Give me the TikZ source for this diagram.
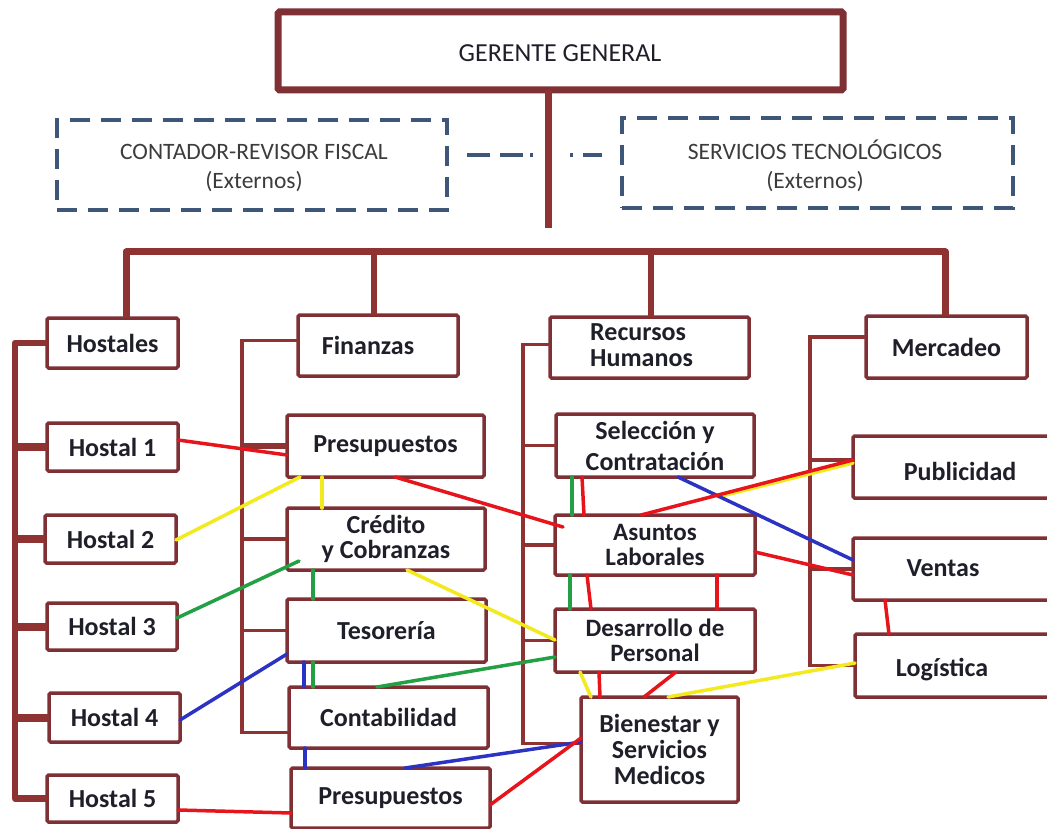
\documentclass[tikz,border=0pt]{standalone}
\usepackage{fontspec}
\setmainfont{Carlito}
\usetikzlibrary{calc}
\definecolor{trunkc}{HTML}{8E3232}
\definecolor{boxc}{HTML}{7E3035}
\definecolor{txtc}{HTML}{1F1F2A}
\definecolor{extc}{HTML}{3C3C3C}
\definecolor{dashc}{HTML}{3E5677}
\definecolor{lred}{HTML}{E8141C}
\definecolor{lyel}{HTML}{F2EA1E}
\definecolor{lgrn}{HTML}{23A044}
\definecolor{lblu}{HTML}{2C33C2}
\begin{document}
\begin{tikzpicture}[x=1pt,y=-1pt,
  box/.style={draw=boxc, line width=3.5pt, rounded corners=1.5pt, outer sep=0pt, inner sep=0pt,
    anchor=north west, align=center, text=txtc, font=\fontsize{26}{26}\selectfont\bfseries},
  lbl/.style={inner sep=0pt, align=center, text=txtc, font=\fontsize{26}{26}\selectfont\bfseries},
  topbox/.style={box, line width=7pt},
  toptxt/.style={inner sep=0pt, text=txtc, font=\fontsize{26}{26}\selectfont},
  extbox/.style={draw=dashc, line width=3.5pt, dash pattern=on 20pt off 11pt, outer sep=0pt,
    inner sep=0pt, anchor=north west},
  exttxt/.style={inner sep=0pt, align=center, text=extc, font=\fontsize{23.5}{29}\selectfont},
  trunk/.style={draw=trunkc, line width=7pt},
  drop/.style={draw=trunkc, line width=6pt},
  hostbar/.style={draw=trunkc, line width=6.5pt},
  limb/.style={draw=trunkc, line width=3.5pt},
  link/.style={line width=3.5pt, line cap=round},
]
\useasboundingbox (0,0) rectangle (1047,829);

% ---- top management and external services
\node[topbox, minimum width=565pt, minimum height=78pt] (gg) at (278,12) {};
\node[toptxt] (ggT) at (560,53) {GERENTE GENERAL};
\node[extbox, minimum width=390pt, minimum height=90pt] (cont) at (57,120) {};
\node[exttxt] (contT) at (254,168) {CONTADOR-REVISOR FISCAL\\(Externos)};
\node[extbox, minimum width=391pt, minimum height=90pt] (serv) at (622,118) {};
\node[exttxt] (servT) at (815,166) {SERVICIOS TECNOLÓGICOS\\(Externos)};

% ---- Hostales column
\node[box, minimum width=131pt, minimum height=50pt] (hostales) at (47,318) {Hostales};
\node[box, minimum width=131pt, minimum height=48pt] (h1) at (47,423) {Hostal 1};
\node[box, minimum width=131pt, minimum height=48pt] (h2) at (45,515) {Hostal 2};
\node[box, minimum width=130pt, minimum height=47pt] (h3) at (47,603) {Hostal 3};
\node[box, minimum width=131pt, minimum height=49pt] (h4) at (49,693) {Hostal 4};
\node[box, minimum width=131pt, minimum height=47pt] (h5) at (47,775) {Hostal 5};

% ---- Finanzas column
\node[box, minimum width=160pt, minimum height=61pt] (fin) at (298,315) {};
\node[lbl] (finT) at (368,345) {Finanzas};
\node[box, minimum width=197pt, minimum height=62pt] (pres1) at (287,415) {Presupuestos};
\node[box, minimum width=198pt, minimum height=62pt, font=\fontsize{26}{25}\selectfont\bfseries]
  (cred) at (287,508) {Crédito\\ y Cobranzas};
\node[box, minimum width=199pt, minimum height=63pt] (tes) at (287,599) {Tesorería};
\node[box, minimum width=199pt, minimum height=61pt] (conta) at (289,687) {Contabilidad};
\node[box, minimum width=199pt, minimum height=60pt] (pres2) at (291,768) {Presupuestos};

% ---- Recursos Humanos column
\node[box, minimum width=199pt, minimum height=61pt] (rrhh) at (550,317) {};
\node[lbl, align=left, anchor=west] (rrhhT) at (590,345) {Recursos\\Humanos};
\node[box, minimum width=198pt, minimum height=63pt, font=\fontsize{26}{31}\selectfont\bfseries]
  (sel) at (556,414) {Selección y\\Contratación};
\node[box, minimum width=200pt, minimum height=60pt, font=\fontsize{25}{25}\selectfont\bfseries]
  (asun) at (555,515) {Asuntos\\Laborales};
\node[box, minimum width=200pt, minimum height=63pt, font=\fontsize{25}{25}\selectfont\bfseries]
  (des) at (555,609) {Desarrollo de\\Personal};
\node[box, minimum width=157pt, minimum height=105pt] (bien) at (581,697)
  {Bienestar y\\Servicios\\Medicos};

% ---- Mercadeo column (the sub-boxes run on past the right edge)
\node[box, minimum width=161pt, minimum height=62pt] (merc) at (866,316) {Mercadeo};
\node[box, minimum width=210pt, minimum height=62pt] (pub) at (853,436) {};
\node[lbl] (pubT) at (960,471) {Publicidad};
\node[box, minimum width=210pt, minimum height=62pt] (ventas) at (853,538) {};
\node[lbl] (ventasT) at (943,568) {Ventas};
\node[box, minimum width=210pt, minimum height=63pt] (log) at (855,634) {};
\node[lbl] (logT) at (942,670) {Logística};

% ---- link between the external services
\draw[dashc, line width=3.5pt, shorten <=20pt, shorten >=20pt,
  dash pattern=on 23pt off 10pt on 23pt off 7pt on 3pt off 37pt on 3pt off 10pt on 20pt off 40pt]
  (cont.east |- 0,155) -- (serv.west |- 0,155);

% ---- main trunk
\coordinate (stem) at (548,228);
\draw[trunk] (gg.south -| stem) -- (stem);
\coordinate (barL) at (126,252);
\coordinate (barR) at (945,252);
\coordinate (dF) at (374,252);
\coordinate (dR) at (651,252);
\draw[trunk, line join=round] (hostales.north -| barL) -- (barL) -- (barR) -- (merc.north -| barR);
\draw[drop] (dF) -- (fin.north -| dF);
\draw[drop] (dR) -- (rrhh.north -| dR);

% ---- Hostales bracket
\coordinate (hx) at (15,0);
\draw[hostbar, line join=round] (hostales.west) -- (hostales.west -| hx) -- (h5.west -| hx) -- (h5.west);
\foreach \n in {h1,h2,h3,h4} \draw[hostbar, line width=8pt] (\n.west -| hx) -- (\n.west);

% ---- Finanzas bracket
\coordinate (fx) at (242,0);
\coordinate (finS) at ([yshift=5pt]fin.west);
\coordinate (contaS) at ([yshift=-15pt]conta.west);
\draw[limb] (finS) -- (finS -| fx) -- (contaS -| fx) -- (contaS);
\foreach \n in {pres1,cred,tes} \draw[limb] (\n.west -| fx) -- (\n.west);
\draw[limb, line width=6pt] (pres1.west -| fx) -- (pres1.west);

% ---- Recursos Humanos bracket
\coordinate (rx) at (523,0);
\coordinate (rrS) at ([yshift=3pt]rrhh.west);
\coordinate (bienS) at ([yshift=6pt]bien.west);
\draw[limb] (rrS) -- (rrS -| rx) -- (bienS -| rx) -- (bienS);
\foreach \n in {sel,asun,des} \draw[limb] (\n.west -| rx) -- (\n.west);

% ---- Mercadeo bracket
\coordinate (mx) at (810,0);
\coordinate (mercS) at ([yshift=10pt]merc.west);
\coordinate (pubS) at ([yshift=7pt]pub.west);
\draw[limb] (mercS) -- (mercS -| mx) -- (log.west -| mx) -- (log.west);
\draw[limb] (pubS -| mx) -- (pubS);
\draw[limb] (ventas.west -| mx) -- (ventas.west);

% ---- cross relations: yellow
\coordinate (ypub) at (722,496);
\draw[link, lyel] (pub.west |- 0,463) -- (ypub);
\draw[link, lyel] (h2.east |- 0,540) -- (pres1.south -| 300,0);
\draw[link, lyel] (pres1.south -| 322,0) -- (cred.north -| 322,0);
\draw[link, lyel] (cred.south -| 407,0) -- (des.west |- 0,640);
\draw[link, lyel] (des.south -| 580,0) -- (bien.north -| 591,0);
\draw[link, lyel] (bien.north -| 668,0) -- (log.west |- 0,663);

% ---- cross relations: green
\draw[link, lgrn] (h3.east |- 0,618) -- ([shift={(12pt,9pt)}]cred.south west);
\draw[link, lgrn] (cred.south -| 313,0) -- (tes.north -| 313,0);
\draw[link, lgrn] (tes.south -| 313,0) -- (conta.north -| 313,0);
\draw[link, lgrn] (conta.north -| 377,0) -- (des.west |- 0,657);
\draw[link, lgrn] (sel.south -| 572,0) -- (asun.north -| 572,0);
\draw[link, lgrn] (asun.south -| 570,0) -- (des.north -| 570,0);

% ---- cross relations: blue
\draw[link, lblu] (h4.east |- 0,720) -- (tes.west |- 0,654);
\draw[link, lblu] (tes.south -| 304,0) -- (conta.north -| 304,0);
\draw[link, lblu] (conta.south -| 305,0) -- (pres2.north -| 305,0);
\draw[link, lblu] (pres2.north -| 405,0) -- (bien.west |- 0,742);
\draw[link, lblu] (sel.south -| 678,0) -- (ventas.west |- 0,560);

% ---- cross relations: red
\draw[link, lred] (h1.east |- 0,440) -- (pres1.west |- 0,455);
\draw[link, lred] (pres1.south -| 395,0) -- ([shift={(8pt,-12pt)}]asun.north west);
\draw[link, lred] (sel.south -| 582,0) -- (asun.north -| 584,0);
\draw[link, lred] (asun.north -| 641,0) -- (pub.west |- 0,460);
\draw[link, lred] (asun.east |- 0,552) -- (ventas.west |- 0,575);
\draw[link, lred] (ventas.south -| 885,0) -- (log.north -| 889,0);
\draw[link, lred] (asun.south -| 587,0) -- (des.north -| 591,0);
\draw[link, lred] (asun.south -| 717,0) -- (des.north -| 717,0);
\draw[link, lred] (des.south -| 599,0) -- (bien.north -| 600,0);
\draw[link, lred] (des.south -| 676,0) -- (bien.north -| 644,0);
\draw[link, lred] (pres2.east |- 0,805) -- (bien.west |- 0,738);
\draw[link, lred] (h5.east |- 0,810) -- (pres2.west |- 0,813);
\end{tikzpicture}
\end{document}
